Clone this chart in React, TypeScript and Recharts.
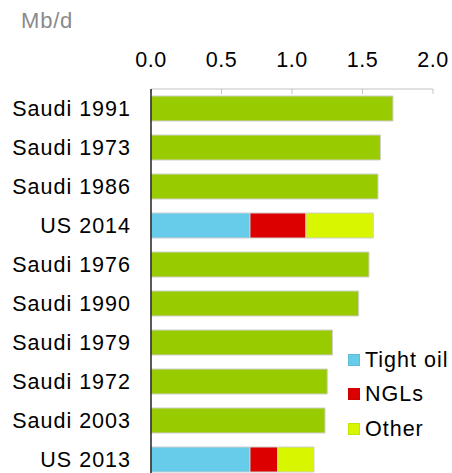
import React from 'react';
import { BarChart, Bar, XAxis, YAxis, Legend } from 'recharts';

const categories = ['Saudi 1991', 'Saudi 1973', 'Saudi 1986', 'US 2014', 'Saudi 1976', 'Saudi 1990', 'Saudi 1979', 'Saudi 1972', 'Saudi 2003', 'US 2013'];
const saudi = [1.716, 1.627, 1.61, null, 1.546, 1.473, 1.287, 1.25, 1.234, null];
const tightOil = [null, null, null, 0.702, null, null, null, null, null, 0.702];
const ngls = [null, null, null, 0.397, null, null, null, null, null, 0.196];
const other = [null, null, null, 0.478, null, null, null, null, null, 0.258];
const xTicks = [0, 0.5, 1, 1.5, 2];
const unitLabel = 'Mb/d';

const COLORS = { saudi: '#99CC00', tight: '#66CCEA', ngl: '#DD0000', other: '#D7F600' };
const legendItems = [
  { name: 'Tight oil', color: COLORS.tight },
  { name: 'NGLs', color: COLORS.ngl },
  { name: 'Other', color: COLORS.other },
];

const data = categories.map((name, i) => ({
  name,
  saudi: saudi[i],
  tight: tightOil[i],
  ngl: ngls[i],
  other: other[i],
}));

const FONT = '"Liberation Sans", Arial, Helvetica, sans-serif';

const renderLegend = () => (
  <div style={{ fontFamily: FONT, fontSize: 21.5, color: '#000', letterSpacing: 1 }}>
    {legendItems.map((it) => (
      <div key={it.name} style={{ height: 34.5, display: 'flex', alignItems: 'center' }}>
        <span style={{ width: 12, height: 12, background: it.color, display: 'inline-block', marginRight: 5, boxShadow: 'inset 0 0 0 1px rgba(0,0,0,0.08)' }} />
        <span style={{ lineHeight: '22px' }}>{it.name}</span>
      </div>
    ))}
  </div>
);

export default function App() {
  return (
    <div style={{ position: 'fixed', left: 0, top: 0, width: 452, height: 473, overflow: 'hidden', background: '#fff' }}>
      <div style={{ position: 'absolute', left: 21, top: 10, fontFamily: FONT, fontSize: 22, lineHeight: '22px', color: '#8a8a8a', letterSpacing: 0.8, zIndex: 2 }}>
        {unitLabel}
      </div>
      <BarChart
        width={452}
        height={490}
        data={data}
        layout="vertical"
        margin={{ top: 29, right: 19, bottom: 11, left: 0 }}
        barSize={25}
      >
        <XAxis
          type="number"
          orientation="top"
          domain={[0, 2]}
          ticks={xTicks}
          height={60}
          tickFormatter={(v: number) => v.toFixed(1)}
          tickSize={-5}
          tickMargin={27}
          axisLine={{ stroke: '#c4c4c4' }}
          tickLine={{ stroke: '#c4c4c4' }}
          tick={{ fontSize: 21.5, fill: '#000', fontFamily: FONT, style: { letterSpacing: 0.6 } }}
          interval={0}
        />
        <YAxis
          type="category"
          dataKey="name"
          width={151}
          tickSize={0}
          tickMargin={20}
          axisLine={{ stroke: '#222', strokeWidth: 1.5 }}
          tickLine={false}
          tick={{ fontSize: 21.5, fill: '#000', fontFamily: FONT, style: { letterSpacing: 1 } }}
          interval={0}
        />
        <Legend
          layout="vertical"
          align="center"
          verticalAlign="middle"
          content={renderLegend}
          wrapperStyle={{ left: 348, top: 342.5, width: 110 }}
        />
        <Bar dataKey="saudi" stackId="a" fill={COLORS.saudi} stroke="#cfcfcf" strokeWidth={1} isAnimationActive={false} />
        <Bar dataKey="tight" stackId="a" fill={COLORS.tight} stroke="#cfcfcf" strokeWidth={1} isAnimationActive={false} />
        <Bar dataKey="ngl" stackId="a" fill={COLORS.ngl} stroke="#cfcfcf" strokeWidth={1} isAnimationActive={false} />
        <Bar dataKey="other" stackId="a" fill={COLORS.other} stroke="#cfcfcf" strokeWidth={1} isAnimationActive={false} />
      </BarChart>
    </div>
  );
}
